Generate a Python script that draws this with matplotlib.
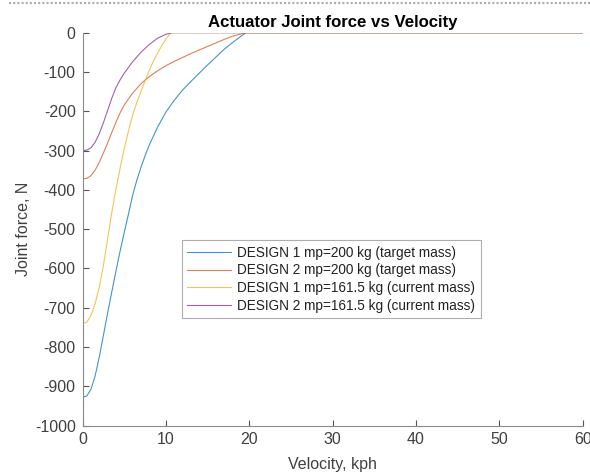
import matplotlib
matplotlib.use("Agg")
import matplotlib.pyplot as plt
from matplotlib.lines import Line2D

plt.rcParams['font.family'] = ['Liberation Sans', 'DejaVu Sans']

# Velocity (kph) and joint force (N)
v_d1_200 = [0, 0.5, 1.0, 1.5, 2.0, 2.5, 3.0, 3.5, 4.0, 4.5, 5.0, 5.5, 6.0, 6.5, 7.0, 7.5, 8.0,
            9.0, 10.0, 11.0, 12.0, 13.0, 14.0, 15.0, 16.0, 17.0, 18.0, 19.0, 19.6, 60]
f_d1_200 = [-928, -925, -908, -874, -826, -770, -714, -660, -607, -556, -508, -462, -414, -376,
            -343, -313, -286, -240, -202, -172, -146, -124, -103, -82, -62, -42, -25, -9, 0, 0]

v_d2_200 = [0, 0.5, 1.0, 1.5, 2.0, 2.5, 3.0, 3.5, 4.0, 4.5, 5.0, 6.0, 7.0, 8.0, 9.0, 10.0,
            11.0, 12.0, 13.0, 14.0, 15.0, 16.0, 17.0, 18.0, 19.0, 19.7, 60]
f_d2_200 = [-372, -371, -364, -350, -330, -306, -281, -254, -228, -204, -184, -154, -130, -112,
            -97, -84, -73, -63, -53, -44, -35, -26, -17, -9, -3, 0, 0]

v_d1_161 = [0, 0.5, 1.0, 1.5, 2.0, 2.5, 3.0, 3.5, 4.0, 4.5, 5.0, 5.5, 6.0, 6.5, 7.0, 7.5, 8.0,
            8.5, 9.0, 9.5, 10.0, 10.6, 60]
f_d1_161 = [-740, -737, -720, -690, -648, -592, -525, -458, -398, -345, -295, -250, -210, -178,
            -150, -122, -96, -72, -52, -33, -16, 0, 0]

v_d2_161 = [0, 0.5, 1.0, 1.5, 2.0, 2.5, 3.0, 3.5, 4.0, 4.5, 5.0, 6.0, 7.0, 8.0, 9.0, 10.0,
            10.7, 60]
f_d2_161 = [-300, -299, -293, -279, -257, -229, -198, -167, -140, -120, -103, -74, -50, -30,
            -14, -4, 0, 0]

labels = ['DESIGN 1 mp=200 kg (target mass)',
          'DESIGN 2 mp=200 kg (target mass)',
          'DESIGN 1 mp=161.5 kg (current mass)',
          'DESIGN 2 mp=161.5 kg (current mass)']
colors = ['#0072BD', '#D95319', '#EDB120', '#7E2F8E']

x_ticks = [0, 10, 20, 30, 40, 50, 60]
y_ticks = [0, -100, -200, -300, -400, -500, -600, -700, -800, -900, -1000]

fig = plt.figure(figsize=(5.90, 4.73), dpi=100)
ax = fig.add_axes([0.140, 0.1004, 0.8476, 0.8305])

series = [(v_d1_200, f_d1_200), (v_d2_200, f_d2_200), (v_d1_161, f_d1_161), (v_d2_161, f_d2_161)]
for (v, f), c, lab in zip(series, colors, labels):
    ax.plot(v, f, color=c, lw=0.8, alpha=0.75, label=lab)

ax.set_xlim(0, 60)
ax.set_ylim(-1000, 0)
ax.set_xticks(x_ticks)
ax.set_yticks(y_ticks)
ax.set_yticklabels([str(t) for t in y_ticks])

for s in ['top', 'right']:
    ax.spines[s].set_visible(False)
for s in ['left', 'bottom']:
    ax.spines[s].set_color('#8a8a8a')
    ax.spines[s].set_linewidth(0.8)
ax.tick_params(direction='in', length=4, width=0.8, color='#555555',
               labelsize=11.5, labelcolor='#404040', pad=5)

ax.set_title('Actuator Joint force vs Velocity', fontsize=12.1, fontweight='bold', pad=4)
ax.set_xlabel('Velocity, kph', fontsize=11.5, color='#404040', labelpad=7)
ax.set_ylabel('Joint force, N', fontsize=11.5, color='#404040', labelpad=2.5)

leg = ax.legend(loc='upper left', bbox_to_anchor=(0.198, 0.472), borderaxespad=0,
                fontsize=9.8, frameon=True, fancybox=False, edgecolor='#999999',
                handlelength=3.2, handletextpad=0.5, labelspacing=0.28, borderpad=0.4)
leg.get_frame().set_linewidth(0.8)
for t in leg.get_texts():
    t.set_color('#222222')

# dotted border at the top of the screenshot
fig.add_artist(Line2D([0.015, 1.0], [0.993, 0.993], transform=fig.transFigure,
                      color='#aaaaaa', lw=1.5, ls=(0, (1, 1))))

fig.savefig('out.png', dpi=100)
